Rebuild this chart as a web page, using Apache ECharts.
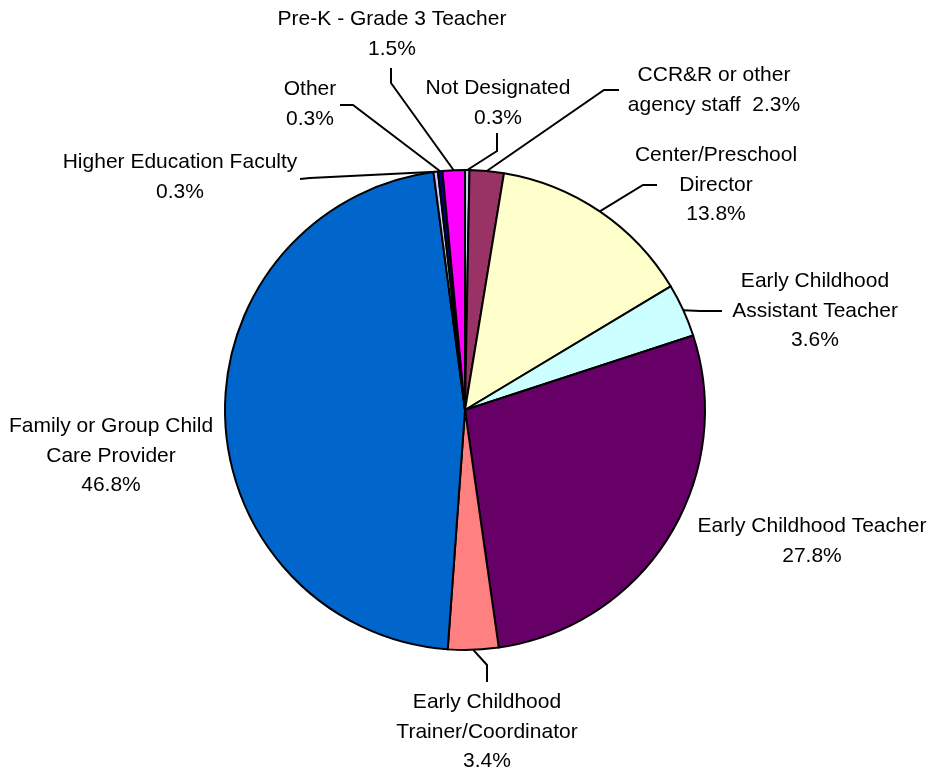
<!DOCTYPE html>
<html>
<head>
<meta charset="utf-8">
<script src="https://cdn.jsdelivr.net/npm/echarts@6/dist/echarts.min.js"></script>
<style>
  html, body { margin: 0; padding: 0; background: #fff; }
  #chart { width: 929px; height: 772px; }
</style>
</head>
<body>
<div id="chart"></div>
<script>
// slices, clockwise from 12 o'clock
var categories = ['Not Designated', 'CCR&R or other agency staff', 'Center/Preschool Director',
    'Early Childhood Assistant Teacher', 'Early Childhood Teacher', 'Early Childhood Trainer/Coordinator',
    'Family or Group Child Care Provider', 'Higher Education Faculty', 'Other', 'Pre-K - Grade 3 Teacher']
var values = [0.3, 2.3, 13.8, 3.6, 27.8, 3.4, 46.8, 0.3, 0.3, 1.5]
// how each label is broken into lines (percent appended after)
var labelText = ['Not Designated\n', 'CCR&R or other\nagency staff  ', 'Center/Preschool\nDirector\n',
    'Early Childhood\nAssistant Teacher\n', 'Early Childhood Teacher\n', 'Early Childhood\nTrainer/Coordinator\n',
    'Family or Group Child\nCare Provider\n', 'Higher Education Faculty\n', 'Other\n', 'Pre-K - Grade 3 Teacher\n']
var colors = ['#CCCCFF', '#993366', '#FFFFCC', '#CCFFFF', '#660066', '#FF8080',
    '#0066CC', '#CCCCFF', '#000080', '#FF00FF']

// label placement (Excel style, hand-positioned), guide = elbow + end
var labelPos = [
    { x: 498, y: 103, guide: [[497, 151], [497, 133]] },
    { x: 714, y: 90, guide: [[604, 90], [619, 90]] },
    { x: 716, y: 185, guide: [[643, 185], [657, 185]] },
    { x: 815, y: 311, guide: [[700, 311], [722, 311]] },
    { x: 812, y: 541 },
    { x: 487, y: 732, guide: [[487, 665], [487, 682]] },
    { x: 111, y: 456 },
    { x: 180, y: 177, guide: [[310, 178], [300, 179]] },
    { x: 310, y: 104, guide: [[353, 105], [340, 105]] },
    { x: 392, y: 34, guide: [[391, 83], [391, 68]] }
]

var pieData = []
for (var i = 0; i < categories.length; i++) {
    pieData.push({
        name: categories[i],
        value: values[i],
        itemStyle: { color: colors[i] },
        labelLine: { show: !!labelPos[i].guide }
    })
}

var chart = echarts.init(document.getElementById('chart'))
var option = {
    animation: false,
    series: [{
        type: 'pie',
        center: [465, 410],
        radius: 240,
        startAngle: 90,
        clockwise: true,
        avoidLabelOverlap: false,
        emphasis: { disabled: true },
        itemStyle: {
            borderColor: '#000',
            borderWidth: 2
        },
        label: {
            show: true,
            position: 'outside',
            color: '#000',
            fontFamily: 'Liberation Sans',
            fontSize: 21,
            lineHeight: 29.5,
            align: 'center',
            formatter: function (p) {
                return labelText[p.dataIndex] + p.value.toFixed(1) + '%'
            }
        },
        labelLine: {
            show: true,
            lineStyle: { color: '#000', width: 2 }
        },
        labelLayout: function (params) {
            var pos = labelPos[params.dataIndex]
            var res = { x: pos.x, y: pos.y, align: 'center', verticalAlign: 'middle' }
            if (pos.guide && params.labelLinePoints) {
                res.labelLinePoints = [params.labelLinePoints[0], pos.guide[0], pos.guide[1]]
            }
            return res
        },
        data: pieData
    }]
}
chart.setOption(option)
window.addEventListener('resize', function () {
    chart.resize()
})
</script>
</body>
</html>
